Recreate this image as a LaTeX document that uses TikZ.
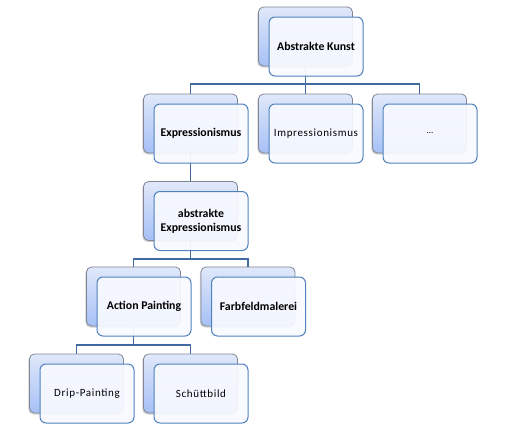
\documentclass[tikz,border=0pt]{standalone}
\usepackage{fontspec}
\setmainfont{Carlito}
\newfontfamily\regfont[LetterSpace=6]{Carlito}
\usetikzlibrary{shadows}
\definecolor{backtop}{RGB}{224,232,250}
\definecolor{backbot}{RGB}{166,192,246}
\definecolor{backedge}{RGB}{128,134,148}
\definecolor{frontedge}{RGB}{79,129,189}
\definecolor{frontfill}{RGB}{248,250,255}
\definecolor{linkcol}{RGB}{66,106,160}
\tikzset{
  backbox/.style={draw=backedge, line width=0.8pt, rounded corners=5pt,
    top color=backtop, bottom color=backbot, minimum width=94pt, minimum height=59pt,
    inner sep=0pt, drop shadow={shadow xshift=-1.2pt, shadow yshift=-1.5pt, opacity=0.35}},
  frontbox/.style={draw=frontedge, line width=1pt, rounded corners=6pt,
    fill=frontfill, fill opacity=0.92, text opacity=1, minimum width=94pt, minimum height=59pt,
    inner sep=2pt, align=center, font=\regfont\fontsize{11}{13}\selectfont},
  hd/.style={font=\fontsize{11.8}{14}\selectfont\bfseries},
  dotsfont/.style={font=\fontsize{9}{11}\selectfont},
  link/.style={draw=linkcol, line width=1.6pt}
}
\begin{document}
\begin{tikzpicture}[x=1pt,y=-1pt]
\useasboundingbox (0,0) rectangle (512,434);
% back boxes
\foreach \n/\x/\y in {ak/316/46.5, ex/201/133.5, im/316/133.5, dt/430/133.5, ae/201/221, ap/144/306.5, fa/258.5/306.5, dr/87/393.5, sc/201/393.5}{
  \node[backbox] (\n B) at (\x-10.5,\y-10) {};
}
% connectors
\coordinate (bar1) at (0,84);
\coordinate (bar2) at (0,259);
\coordinate (bar3) at (0,345);
\draw[link] (akB.south) -- (akB.south |- bar1) -| (exB.north);
\draw[link] (akB.south |- bar1) -| (imB.north);
\draw[link] (akB.south |- bar1) -| (dtB.north);
\draw[link] (exB.south) -- (aeB.north);
\draw[link] (aeB.south) -- (aeB.south |- bar2) -| (apB.north);
\draw[link] (aeB.south |- bar2) -| (faB.north);
\draw[link] (apB.south) -- (apB.south |- bar3) -| (drB.north);
\draw[link] (apB.south |- bar3) -| (scB.north);
% front boxes
\node[frontbox, hd] (ak) at (316,46.5) {Abstrakte Kunst};
\node[frontbox, hd] (ex) at (201,133.5) {Expressionismus};
\node[frontbox] (im) at (316,133.5) {Impressionismus};
\node[frontbox, dotsfont] (dt) at (430,133.5) {...};
\node[frontbox, hd] (ae) at (201,221) {abstrakte\\Expressionismus};
\node[frontbox, hd] (ap) at (144,306.5) {Action Painting};
\node[frontbox, hd] (fa) at (258.5,306.5) {Farbfeldmalerei};
\node[frontbox] (dr) at (87,393.5) {Drip-Painting};
\node[frontbox] (sc) at (201,393.5) {Schüttbild};
\end{tikzpicture}
\end{document}
